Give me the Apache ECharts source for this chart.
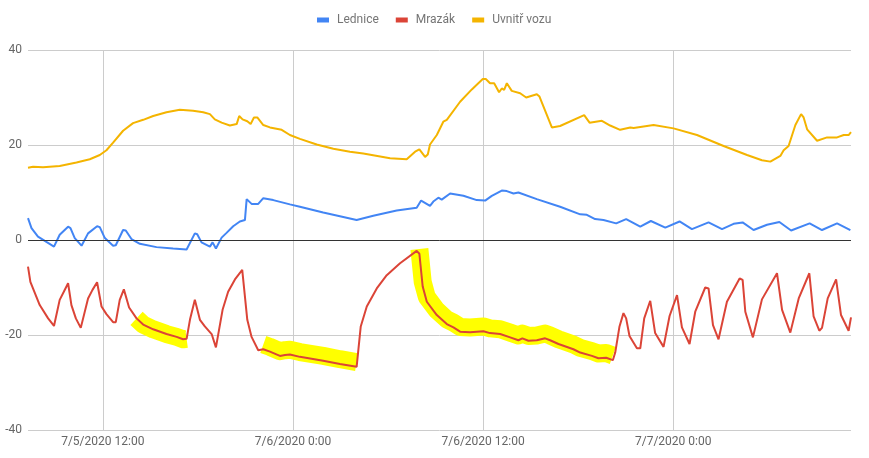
<!DOCTYPE html>
<html>
<head>
<meta charset="utf-8">
<script src="https://cdn.jsdelivr.net/npm/echarts@6/dist/echarts.min.js"></script>
<style>
  html, body { margin: 0; padding: 0; background: #fff; }
  #main { width: 869px; height: 458px; }
</style>
</head>
<body>
<div id="main"></div>
<script>
// x = hodiny od 7/5/2020 0:00
const xTicks = [12, 24, 36, 48];
const yTicks = [-40, -20, 0, 20, 40];

const lednice = [
  [7.28, 4.6], [7.50, 2.5], [7.91, 0.7], [8.34, -0.2], [8.92, -1.4], [9.28, 1.1], [9.81, 2.8], [9.96, 2.5],
  [10.23, 0.4], [10.66, -1.2], [11.07, 1.4], [11.64, 2.9], [11.81, 2.7], [12.13, 0.4], [12.65, -1.2], [12.82, -1.1],
  [13.28, 2.1], [13.45, 2.0], [13.81, 0.2], [14.34, -0.8], [15.39, -1.5], [16.44, -1.8], [17.29, -2.0], [17.81, 1.4],
  [17.96, 1.2], [18.23, -0.5], [18.76, -1.4], [18.93, -0.5], [19.14, -1.8], [19.50, 0.5], [19.81, 1.5], [20.23, 2.9],
  [20.65, 3.9], [20.97, 4.2], [21.08, 8.6], [21.39, 7.6], [21.81, 7.6], [22.13, 8.8], [22.76, 8.4], [23.81, 7.5],
  [24.44, 7.0], [25.91, 5.8], [28.02, 4.2], [29.07, 5.1], [30.55, 6.2], [31.81, 6.8], [32.09, 8.3], [32.65, 7.2],
  [32.86, 8.1], [33.18, 8.9], [33.39, 8.5], [33.92, 9.8], [34.76, 9.3], [35.60, 8.4], [36.13, 8.3], [36.55, 9.3],
  [37.18, 10.4], [37.50, 10.3], [37.92, 9.8], [38.23, 10.0], [39.39, 8.6], [40.86, 7.0], [42.13, 5.4], [42.55, 5.3],
  [43.07, 4.4], [43.60, 4.2], [44.40, 3.5], [45.03, 4.4], [45.92, 2.8], [46.59, 4.0], [47.50, 2.6], [48.40, 3.9],
  [49.18, 2.3], [50.23, 3.7], [51.08, 2.3], [51.81, 3.4], [52.38, 3.7], [53.07, 2.1], [53.92, 3.2], [54.70, 3.8],
  [55.44, 2.0], [56.61, 3.5], [57.39, 2.1], [58.34, 3.5], [59.18, 2.1]
];

const mrazak = [
  [7.28, -5.6], [7.43, -8.8], [8.02, -13.7], [8.55, -16.5], [8.92, -18.1], [9.28, -12.6], [9.54, -10.9], [9.81, -9.1],
  [10.02, -13.7], [10.30, -16.5], [10.61, -18.5], [11.07, -12.3], [11.35, -10.5], [11.64, -8.9], [11.92, -14.0],
  [12.23, -15.6], [12.65, -17.3], [12.82, -17.3], [13.07, -12.6], [13.33, -10.4], [13.66, -14.2], [14.13, -16.5],
  [14.55, -17.8], [15.18, -18.8], [16.02, -19.8], [16.66, -20.4], [17.07, -20.9], [17.29, -20.8], [17.50, -16.8],
  [17.81, -12.6], [18.13, -16.8], [18.44, -18.2], [18.87, -19.8], [19.14, -22.6], [19.56, -14.7], [19.91, -10.9],
  [20.34, -8.3], [20.80, -6.3], [21.12, -16.8], [21.39, -20.4], [21.81, -23.2], [22.13, -23.0], [22.55, -23.5],
  [23.18, -24.4], [23.50, -24.2], [23.81, -24.1], [24.44, -24.6], [25.91, -25.4], [26.97, -26.1], [28.02, -26.7],
  [28.28, -18.2], [28.66, -14.0], [29.29, -10.2], [29.92, -7.4], [30.76, -4.9], [31.81, -2.3], [31.98, -2.9],
  [32.19, -9.8], [32.45, -13.0], [33.08, -15.8], [33.71, -17.7], [34.13, -18.4], [34.55, -19.3], [35.18, -19.4],
  [36.02, -19.2], [36.44, -19.6], [37.08, -19.8], [37.71, -20.5], [38.23, -21.1], [38.48, -20.7], [38.86, -21.2],
  [39.39, -21.1], [39.92, -20.7], [40.23, -21.1], [40.76, -21.9], [41.70, -23.0], [42.13, -23.7], [42.87, -24.4],
  [43.28, -24.9], [43.77, -24.8], [44.19, -25.3], [44.34, -23.7], [44.61, -18.2], [44.86, -15.4], [45.03, -16.5],
  [45.24, -20.2], [45.71, -22.8], [45.92, -22.8], [46.17, -16.5], [46.55, -12.8], [46.86, -19.6], [47.39, -22.5],
  [47.77, -16.0], [48.24, -11.6], [48.55, -18.4], [49.03, -21.9], [49.39, -15.1], [50.02, -10.0], [50.23, -10.2],
  [50.51, -17.9], [50.86, -20.9], [51.39, -13.0], [52.19, -8.1], [52.38, -8.4], [52.55, -15.1], [53.03, -20.5],
  [53.60, -12.5], [54.55, -7.0], [54.87, -14.7], [55.39, -19.5], [55.92, -12.3], [56.59, -7.0], [56.86, -16.1],
  [57.22, -19.1], [57.39, -18.5], [57.75, -12.3], [58.28, -8.3], [58.59, -15.8], [59.07, -19.1], [59.22, -16.3]
];

const uvnitrVozu = [
  [7.28, 15.2], [7.60, 15.4], [8.23, 15.3], [9.28, 15.6], [10.34, 16.3], [11.18, 17.0], [11.81, 17.9], [12.23, 18.9],
  [12.65, 20.5], [13.28, 23.0], [13.91, 24.6], [14.55, 25.3], [15.18, 26.1], [16.02, 26.9], [16.86, 27.4], [17.70, 27.2],
  [18.34, 26.9], [18.76, 26.5], [19.07, 25.4], [19.50, 24.7], [20.02, 24.1], [20.45, 24.4], [20.61, 26.1], [20.82, 25.4],
  [21.12, 25.0], [21.33, 24.4], [21.54, 25.8], [21.75, 25.8], [22.13, 24.2], [22.55, 23.7], [23.29, 23.2], [23.81, 22.1],
  [24.44, 21.3], [25.50, 20.1], [26.55, 19.2], [27.60, 18.6], [28.44, 18.2], [30.13, 17.2], [31.18, 17.0], [31.71, 18.6],
  [31.98, 19.1], [32.34, 17.5], [32.51, 18.0], [32.65, 20.1], [33.08, 22.1], [33.49, 24.9], [33.71, 25.3], [34.55, 29.1],
  [35.29, 31.7], [35.98, 33.9], [36.17, 33.9], [36.44, 33.0], [36.70, 33.0], [37.01, 31.1], [37.18, 31.9], [37.33, 31.6],
  [37.50, 33.0], [37.81, 31.4], [38.34, 30.9], [38.72, 30.0], [39.39, 30.7], [39.56, 30.2], [40.34, 23.7], [40.86, 24.0],
  [42.38, 26.3], [42.72, 24.7], [43.50, 25.1], [44.02, 24.1], [44.65, 23.2], [45.29, 23.7], [45.50, 23.6], [46.76, 24.2],
  [48.02, 23.5], [49.50, 22.1], [51.18, 19.8], [52.66, 17.9], [53.60, 16.8], [54.13, 16.5], [54.76, 17.7], [54.97, 18.9],
  [55.28, 19.8], [55.71, 24.2], [56.07, 26.5], [56.23, 25.8], [56.45, 23.3], [57.08, 20.9], [57.71, 21.6], [58.34, 21.6],
  [58.76, 22.1], [59.07, 22.1], [59.22, 22.7]
];

// zvyraznene useky mrazaku (od, do, posun)
const highlights = [[13.9, 17.35, 0], [22.0, 28.1, 1], [31.9, 44.3, 1]];

function hourLabel(h) {
  let day = 5 + Math.floor(h / 24);
  return "7/" + day + "/2020 " + (h % 24) + ":00";
}

let mycharts = echarts.init(document.getElementById("main"));

let hlSeries = highlights.map(function (r) {
  return {
    type: "line",
    silent: true,
    animation: false,
    symbol: "none",
    z: 1,
    lineStyle: { color: "#ffff00", width: 18, cap: "butt", join: "round" },
    data: mrazak.filter(function (p) { return p[0] >= r[0] && p[0] <= r[1]; })
      .map(function (p) { return [p[0], p[1] + r[2]]; })
  };
});

let option = {
  animation: false,
  textStyle: { fontFamily: "Roboto" },
  legend: {
    top: 9,
    left: 312,
    data: ["Lednice", "Mrazák", "Uvnitř vozu"],
    itemWidth: 12,
    itemHeight: 5,
    itemGap: 17,
    icon: "rect",
    textStyle: { color: "#757575", fontSize: 12, padding: [0, 0, 0, 3] }
  },
  grid: { left: 28, right: 18, top: 50, bottom: 28 },
  xAxis: {
    type: "value",
    min: 7.28,
    max: 59.22,
    axisLine: { show: false },
    axisTick: { show: false, customValues: xTicks },
    axisLabel: {
      customValues: xTicks,
      color: "#666",
      fontSize: 12,
      margin: 6,
      formatter: hourLabel
    },
    splitLine: { show: true, lineStyle: { color: "#cccccc" } }
  },
  yAxis: {
    type: "value",
    min: -40,
    max: 40,
    interval: 20,
    axisLine: { show: false },
    axisTick: { show: false },
    axisLabel: { color: "#666", fontSize: 12, margin: 6 },
    splitLine: { lineStyle: { color: "#cccccc" } }
  },
  series: hlSeries.concat([
    {
      name: "Lednice",
      type: "line",
      symbol: "none",
      z: 3,
      lineStyle: { width: 2, color: "#4285f4" },
      itemStyle: { color: "#4285f4" },
      data: lednice,
      markLine: {
        silent: true,
        symbol: ["none", "none"],
        label: { show: false },
        lineStyle: { color: "#333", width: 1, type: "solid" },
        data: [{ yAxis: 0 }]
      }
    },
    {
      name: "Mrazák",
      type: "line",
      symbol: "none",
      z: 3,
      lineStyle: { width: 2, color: "#db4437" },
      itemStyle: { color: "#db4437" },
      data: mrazak
    },
    {
      name: "Uvnitř vozu",
      type: "line",
      symbol: "none",
      z: 3,
      lineStyle: { width: 2, color: "#f4b400" },
      itemStyle: { color: "#f4b400" },
      data: uvnitrVozu
    }
  ])
};
mycharts.setOption(option);
</script>
</body>
</html>
